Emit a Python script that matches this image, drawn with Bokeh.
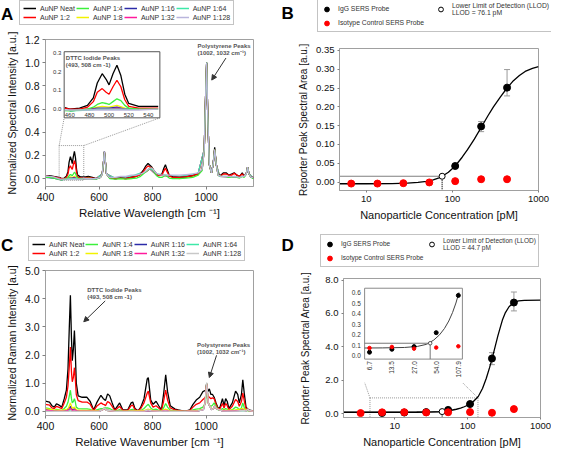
import math
from bokeh.plotting import figure
from bokeh.layouts import column, row
from bokeh.models import (Range1d, FixedTicker, PrintfTickFormatter, Legend, LegendItem, Label,
                          Arrow, NormalHead, TeeHead, Whisker, ColumnDataSource, LogScale)
from bokeh.core.properties import value
from bokeh.embed import file_html
from bokeh.resources import INLINE

FONT = "Liberation Sans"

# ---------------- Panel A : AuNP spectra ----------------
xA = [400, 415, 430, 455, 460, 470, 478, 484, 488, 493, 497, 500, 504, 508, 512, 516, 520, 530, 550, 560,
      575, 590, 605, 612, 617, 620, 623, 628, 640, 660, 680, 700, 720, 740, 755, 765, 775, 783, 790, 797,
      805, 815, 825, 835, 842, 848, 854, 862, 875, 900, 925, 950, 970, 985, 993, 998, 1002, 1006, 1012, 1020,
      1026, 1032, 1038, 1045, 1055, 1065, 1075, 1085, 1095, 1105, 1115, 1125, 1135, 1142, 1150, 1155, 1160, 1168, 1177]
a_neat = [0.02, 0.025, 0.02, 0.008, 0.0, 0.005, 0.02, 0.06, 0.14, 0.19, 0.16, 0.13, 0.19, 0.235, 0.18,
          0.08, 0.03, 0.015, 0.015, 0.02, 0.01, 0.0, 0.01, 0.04, 0.15, 0.235, 0.16, 0.04, 0.01, 0.0,
          0.005, 0.0, 0.01, 0.02, 0.04, 0.07, 0.11, 0.13, 0.115, 0.1, 0.07, 0.04, 0.03, 0.04, 0.09,
          0.12, 0.08, 0.03, 0.015, 0.01, 0.015, 0.025, 0.04, 0.08, 0.25, 0.7, 1.0, 0.55, 0.12, 0.05,
          0.12, 0.27, 0.12, 0.03, 0.03, 0.05, 0.05, 0.03, 0.04, 0.05, 0.03, 0.02, 0.05, 0.02, 0.04,
          0.1, 0.04, 0.01, 0.01]
a_1_2 = [0.02, 0.02, 0.015, 0.005, 0.0, 0.0, 0.01, 0.04, 0.09, 0.11, 0.09, 0.08, 0.12, 0.155, 0.12,
         0.05, 0.015, 0.005, 0.005, 0.01, 0.005, 0.0, 0.01, 0.04, 0.15, 0.23, 0.16, 0.04, 0.005, 0.0,
         0.005, 0.0, 0.01, 0.02, 0.035, 0.06, 0.09, 0.11, 0.1, 0.095, 0.065, 0.035, 0.025, 0.03, 0.065,
         0.09, 0.06, 0.025, 0.01, 0.01, 0.015, 0.025, 0.04, 0.08, 0.25, 0.7, 0.99, 0.55, 0.12, 0.05,
         0.12, 0.25, 0.12, 0.03, 0.025, 0.04, 0.04, 0.03, 0.03, 0.045, 0.03, 0.02, 0.04, 0.02, 0.04,
         0.1, 0.04, 0.01, 0.01]
a_1_4 = [0.01, 0.01, 0.005, -0.008, -0.01, -0.005, 0.0, 0.01, 0.025, 0.035, 0.03, 0.025, 0.04, 0.055, 0.045,
         0.02, 0.005, 0.0, 0.0, 0.005, 0.0, -0.005, 0.01, 0.04, 0.15, 0.23, 0.16, 0.04, 0.0, -0.005,
         0.0, -0.005, 0.0, 0.005, 0.02, 0.04, 0.06, 0.075, 0.085, 0.09, 0.06, 0.025, 0.01, 0.01, 0.02,
         0.03, 0.02, 0.005, 0.0, 0.0, 0.005, 0.01, 0.03, 0.07, 0.25, 0.7, 1.0, 0.55, 0.12, 0.05,
         0.12, 0.25, 0.12, 0.03, 0.02, 0.02, 0.02, 0.01, 0.01, 0.02, 0.01, 0.005, 0.02, 0.01, 0.04,
         0.1, 0.04, 0.01, 0.0]
a_1_128 = [0.02, 0.02, 0.015, -0.005, -0.005, -0.005, -0.005, -0.005, -0.005, -0.005, -0.005, -0.005, -0.005, -0.005, -0.005,
           -0.005, -0.005, -0.005, 0.0, 0.0, 0.0, 0.0, 0.01, 0.04, 0.15, 0.235, 0.16, 0.04, 0.01, 0.01,
           0.02, 0.02, 0.03, 0.03, 0.04, 0.05, 0.065, 0.08, 0.09, 0.09, 0.07, 0.045, 0.035, 0.03, 0.03,
           0.035, 0.03, 0.03, 0.03, 0.03, 0.035, 0.04, 0.05, 0.08, 0.25, 0.7, 1.0, 0.55, 0.12, 0.05,
           0.12, 0.25, 0.12, 0.03, 0.02, 0.02, 0.02, 0.02, 0.015, 0.02, 0.015, 0.01, 0.02, 0.02, 0.04,
           0.1, 0.04, 0.01, 0.01]
xA_low = [400, 430, 460, 480, 488, 493, 500, 508, 516, 530, 590, 612, 617, 620, 623, 628, 660, 720, 775, 790,
          815, 848, 900, 970, 993, 998, 1002, 1006, 1012, 1020, 1026, 1032, 1038, 1050, 1100, 1140, 1150, 1155, 1160, 1177]
a_1_8 = [0.01, 0.01, -0.005, 0.0, 0.01, 0.015, 0.01, 0.02, 0.005, 0.0, 0.0, 0.04, 0.15, 0.23, 0.16,
         0.04, 0.0, 0.0, 0.06, 0.085, 0.03, 0.025, 0.0, 0.03, 0.25, 0.7, 1.0, 0.55, 0.12, 0.05,
         0.12, 0.25, 0.12, 0.02, 0.015, 0.02, 0.04, 0.1, 0.04, 0.0]
a_1_16 = [0.01, 0.005, -0.01, 0.0, 0.005, 0.005, 0.005, 0.01, 0.0, 0.0, 0.0, 0.04, 0.15, 0.23, 0.16,
          0.04, 0.0, 0.01, 0.06, 0.085, 0.03, 0.025, 0.01, 0.04, 0.25, 0.7, 1.0, 0.55, 0.12, 0.05,
          0.12, 0.25, 0.12, 0.02, 0.015, 0.02, 0.04, 0.1, 0.04, 0.0]
a_1_32 = [0.01, 0.01, -0.005, 0.0, 0.0, 0.0, 0.0, 0.005, 0.0, 0.0, 0.0, 0.04, 0.15, 0.23, 0.16,
          0.04, 0.0, 0.01, 0.06, 0.085, 0.035, 0.025, 0.01, 0.04, 0.25, 0.7, 1.0, 0.55, 0.12, 0.05,
          0.12, 0.25, 0.12, 0.02, 0.015, 0.02, 0.04, 0.1, 0.04, 0.0]
a_1_64 = [0.01, 0.01, -0.01, -0.005, 0.0, 0.0, 0.0, 0.0, 0.0, 0.0, 0.0, 0.04, 0.15, 0.23, 0.16,
          0.04, 0.005, 0.02, 0.065, 0.09, 0.04, 0.03, 0.02, 0.045, 0.25, 0.7, 1.0, 0.55, 0.12, 0.05,
          0.12, 0.25, 0.12, 0.02, 0.015, 0.02, 0.04, 0.1, 0.04, 0.005]
labelsA = ["AuNP Neat", "AuNP 1:2", "AuNP 1:4", "AuNP 1:8", "AuNP 1:16", "AuNP 1:32", "AuNP 1:64", "AuNP 1:128"]
ticksA_x = [400, 600, 800, 1000]
ticksA_y = [0.0, 0.2, 0.4, 0.6, 0.8, 1.0, 1.2]
inset_ticksA_x = [460, 480, 500, 520, 540]
inset_ticksA_y = [0.0, 0.1, 0.2, 0.3]

# ---------------- Panel C : AuNR spectra ----------------
xC = [400, 415, 424, 433, 441, 451, 461, 470, 478, 484, 489, 493, 497, 500, 504, 508, 511, 515, 522, 537,
      555, 567, 580, 591, 607, 616, 620, 624, 632, 640, 649, 659, 677, 689, 707, 720, 726, 734, 746, 756,
      768, 780, 784, 793, 802, 813, 823, 833, 841, 849, 856, 866, 884, 896, 921, 939, 951, 963, 976, 988,
      998, 1002, 1006, 1012, 1018, 1024, 1030, 1037, 1045, 1052, 1061, 1067, 1073, 1079, 1085, 1098, 1110, 1118, 1124, 1132,
      1137, 1143, 1149, 1159, 1175]
c_neat = [0.36, 0.33, 0.2, 0.15, 0.27, 0.22, 0.15, 0.45, 0.75, 1.5, 3.0, 4.12, 2.6, 1.8, 2.2,
          2.87, 2.2, 1.0, 0.55, 0.5, 0.5, 0.35, 0.05, 0.3, 0.57, 0.45, 0.42, 0.38, 0.62, 0.55,
          0.3, 0.05, 0.3, 0.05, 0.05, 0.3, 0.33, 0.1, 0.02, 0.15, 0.45, 1.15, 1.2, 0.4, 0.25,
          0.36, 0.2, 0.05, 0.6, 1.3, 0.7, 0.2, 0.08, 0.05, 0.0, 0.05, 0.25, 0.4, 0.5, 0.7,
          0.75, 0.97, 0.7, 0.8, 0.6, 0.6, 0.5, 0.3, 0.1, 0.15, 0.45, 0.2, 0.45, 0.35, 0.1,
          0.3, 0.72, 0.6, 0.3, 0.6, 1.12, 0.6, 0.15, 0.05, 0.02]
c_1_2 = [0.25, 0.22, 0.12, 0.1, 0.18, 0.14, 0.1, 0.3, 0.5, 0.9, 1.6, 2.28, 1.4, 1.05, 1.2,
         1.55, 1.2, 0.6, 0.38, 0.33, 0.33, 0.25, 0.03, 0.18, 0.3, 0.25, 0.24, 0.2, 0.35, 0.3,
         0.18, 0.03, 0.18, 0.03, 0.03, 0.2, 0.22, 0.06, 0.02, 0.1, 0.3, 0.65, 0.72, 0.3, 0.15,
         0.2, 0.12, 0.03, 0.35, 0.75, 0.4, 0.12, 0.05, 0.03, 0.0, 0.03, 0.15, 0.25, 0.3, 0.42,
         0.5, 0.95, 0.55, 0.5, 0.45, 0.48, 0.45, 0.25, 0.08, 0.1, 0.28, 0.12, 0.28, 0.2, 0.06,
         0.18, 0.42, 0.35, 0.18, 0.35, 0.65, 0.35, 0.1, 0.03, 0.01]
c_1_4 = [0.12, 0.1, 0.05, 0.03, 0.07, 0.05, 0.03, 0.1, 0.18, 0.32, 0.55, 0.75, 0.45, 0.3, 0.35,
         0.45, 0.35, 0.15, 0.1, 0.09, 0.09, 0.07, 0.0, 0.05, 0.1, 0.1, 0.13, 0.12, 0.12, 0.1,
         0.05, 0.0, 0.06, 0.0, 0.0, 0.06, 0.07, 0.02, 0.0, 0.03, 0.1, 0.22, 0.25, 0.12, 0.06,
         0.08, 0.04, 0.01, 0.12, 0.28, 0.15, 0.04, 0.02, 0.0, 0.0, 0.0, 0.05, 0.08, 0.1, 0.15,
         0.3, 0.98, 0.4, 0.2, 0.18, 0.22, 0.3, 0.18, 0.05, 0.04, 0.1, 0.05, 0.1, 0.07, 0.02,
         0.06, 0.15, 0.12, 0.06, 0.12, 0.3, 0.12, 0.03, 0.02, 0.0]
xC_low = [400, 430, 460, 478, 486, 493, 500, 508, 516, 530, 570, 600, 612, 620, 628, 660, 720, 770, 783, 795,
          830, 848, 865, 920, 970, 990, 996, 1002, 1008, 1020, 1028, 1032, 1038, 1060, 1110, 1137, 1150, 1155, 1160, 1177]
c_1_8 = [0.1, 0.05, 0.03, 0.06, 0.12, 0.3, 0.1, 0.15, 0.05, 0.04, 0.03, 0.02, 0.05, 0.1, 0.04,
         0.0, 0.02, 0.03, 0.08, 0.04, 0.0, 0.08, 0.02, 0.0, 0.03, 0.08, 0.3, 0.99, 0.3, 0.08,
         0.1, 0.2, 0.1, 0.03, 0.05, 0.1, 0.04, 0.08, 0.03, 0.0]
c_1_16 = [0.06, 0.03, 0.02, 0.04, 0.08, 0.18, 0.06, 0.09, 0.03, 0.02, 0.02, 0.01, 0.05, 0.1, 0.04,
          0.0, 0.01, 0.02, 0.05, 0.03, 0.0, 0.05, 0.01, 0.0, 0.02, 0.07, 0.3, 0.99, 0.3, 0.07,
          0.1, 0.2, 0.1, 0.02, 0.03, 0.06, 0.03, 0.08, 0.03, 0.0]
c_1_32 = [0.04, 0.02, 0.01, 0.02, 0.05, 0.1, 0.03, 0.05, 0.02, 0.01, 0.01, 0.0, 0.05, 0.1, 0.04,
          0.0, 0.0, 0.01, 0.03, 0.02, 0.0, 0.03, 0.0, 0.0, 0.02, 0.06, 0.3, 0.99, 0.3, 0.06,
          0.1, 0.2, 0.1, 0.02, 0.02, 0.04, 0.02, 0.08, 0.03, 0.0]
c_1_64 = [0.02, 0.01, 0.0, 0.01, 0.02, 0.05, 0.01, 0.03, 0.01, 0.0, 0.0, 0.0, 0.05, 0.1, 0.04,
          0.0, 0.0, 0.01, 0.02, 0.01, 0.0, 0.02, 0.0, 0.0, 0.02, 0.06, 0.3, 1.0, 0.3, 0.06,
          0.1, 0.2, 0.1, 0.02, 0.01, 0.03, 0.02, 0.08, 0.03, 0.0]
c_1_128 = [0.01, 0.0, 0.0, 0.0, 0.0, 0.02, 0.0, 0.01, 0.0, 0.0, 0.0, 0.0, 0.05, 0.12, 0.04,
           0.0, 0.0, 0.01, 0.05, 0.02, 0.0, 0.02, 0.0, 0.0, 0.02, 0.06, 0.3, 1.02, 0.3, 0.06,
           0.1, 0.2, 0.1, 0.02, 0.01, 0.03, 0.02, 0.08, 0.03, 0.0]
labelsC = ["AuNR Neat", "AuNR 1:2", "AuNR 1:4", "AuNR 1:8", "AuNR 1:16", "AuNR 1:32", "AuNR 1:64", "AuNR 1:128"]
ticksC_y = [0.0, 1.0, 2.0, 3.0, 4.0, 5.0]

# ---------------- Panel B : AuNP SERS assay ----------------
concB = [6.7, 13.5, 27.0, 54.0, 107.9, 215.8, 431.6]
iggB_x = [107.9, 215.8, 431.6]
iggB_y = [0.0427, 0.148, 0.251]
iggB_lo = [0.0427, 0.134, 0.229]
iggB_hi = [0.0427, 0.161, 0.299]
isoB_y = [-0.004, -0.004, -0.003, -0.001, 0.0025, 0.0075, 0.0075]
fitB_x = [4.9, 10, 20, 30, 40, 50, 60, 70, 76.1, 90, 107.9, 130, 150, 180, 215.8, 260, 300, 360, 431.6, 500, 600, 700, 850, 1000]
fitB_y = [-0.0045, -0.0044, -0.004, -0.003, -0.001, 0.002, 0.006, 0.011, 0.0155, 0.026, 0.0427, 0.066, 0.086, 0.114,
          0.145, 0.177, 0.2, 0.226, 0.25, 0.267, 0.283, 0.294, 0.302, 0.307]
llodB = (76.1, 0.0155)
ticksB_y = [0.0, 0.05, 0.10, 0.15, 0.20, 0.25, 0.30, 0.35]

# ---------------- Panel D : AuNR SERS assay ----------------
iggD_x = [6.7, 13.5, 27.0, 54.0, 107.9, 215.8, 431.6]
iggD_y = [0.035, 0.063, 0.088, 0.22, 0.572, 3.3, 6.65]
iggD_lo = [0.035, 0.045, 0.08, 0.18, 0.572, 2.93, 6.15]
iggD_hi = [0.035, 0.083, 0.096, 0.31, 0.572, 3.65, 7.28]
isoD_x = [3.4, 6.7, 13.5, 27.0, 54.0, 107.9, 215.8, 431.6]
isoD_y = [0.03, 0.075, 0.085, 0.069, 0.079, 0.091, 0.05, 0.27]
fitD_x = [1.98, 5, 10, 20, 30, 40, 50, 60, 70, 80, 90, 100, 110, 120, 140, 160, 180, 200, 220, 240,
          260, 280, 300, 330, 370, 430, 500, 600, 1000]
fitD_y = [0.075, 0.075, 0.076, 0.08, 0.09, 0.11, 0.15, 0.2, 0.26, 0.33, 0.41, 0.5, 0.6, 0.72, 1.02, 1.5, 2.1, 2.75, 3.4, 4.05,
          4.65, 5.15, 5.6, 6.05, 6.4, 6.65, 6.75, 6.78, 6.8]
llodD = (44.7, 0.12)
ticksD_y = [0.0, 2.0, 4.0, 6.0, 8.0]
inset_ticksD_x = [6.7, 13.5, 27.0, 54.0, 107.9]
inset_ticksD_y = [0.0, 0.1, 0.2, 0.3, 0.4, 0.5, 0.6]
ticks_log = [10, 100, 1000]

COLORS_A = ["#000000", "#ff0000", "#3cf03c", "#f2f200", "#2b2ba8", "#ff1a9c", "#3ee8a8", "#b9b5dc"]
COLORS_C = ["#000000", "#ff0000", "#3cf03c", "#f2f200", "#2b2ba8", "#ff1a9c", "#3ee8a8", "#c8c8c8"]


def make_fig(xr, yr, w, h, left, right, top, bottom, xtype="linear"):
    p = figure(width=w, height=h, x_range=xr, y_range=yr, x_axis_type=xtype, title=None,
               output_backend="svg", toolbar_location=None, frame_align=False,
               min_border_left=left, min_border_right=right, min_border_top=top, min_border_bottom=bottom)
    p.grid.visible = False
    p.outline_line_color = "#a0a0a0"
    p.background_fill_color = "white"
    p.border_fill_color = "white"
    for ax in p.axis:
        ax.axis_line_color = "#a0a0a0"
        ax.major_tick_line_color = "#808080"
        ax.minor_tick_line_color = None
        ax.major_tick_out = 3
        ax.major_tick_in = 0
        ax.major_label_text_font = FONT
        ax.axis_label_text_font = FONT
        ax.axis_label_text_font_style = "normal"
        ax.major_label_text_color = "#111111"
        ax.axis_label_text_color = "#111111"
    return p


def make_header(w, h):
    hf = figure(width=w, height=h, x_range=Range1d(0, w), y_range=Range1d(h, 0), title=None,
                output_backend="svg", toolbar_location=None, frame_align=False,
                min_border=0, min_border_left=0, min_border_right=0, min_border_top=0, min_border_bottom=0,
                x_axis_location=None, y_axis_location=None)
    hf.grid.visible = False
    hf.outline_line_color = None
    hf.background_fill_color = "white"
    hf.border_fill_color = "white"
    return hf


def lin_map(v, r_main, r_ins):
    return r_main.start + (v - r_ins.start) * (r_main.end - r_main.start) / (r_ins.end - r_ins.start)


def log_map(v, r_main, r_ins):
    lm0, lm1 = math.log10(r_main.start), math.log10(r_main.end)
    li0, li1 = math.log10(r_ins.start), math.log10(r_ins.end)
    return 10 ** (lm0 + (math.log10(v) - li0) * (lm1 - lm0) / (li1 - li0))


def clip(xs, ys, lo, hi):
    pts = [(x, y) for x, y in zip(xs, ys) if lo <= x <= hi]
    return [a for a, _ in pts], [b for _, b in pts]


def letter(hf, txt, x, y):
    hf.add_layout(Label(x=x, y=y, text=txt, text_font=FONT, text_baseline="alphabetic",
                        text_font_style="bold", text_font_size="17px", text_color="black"))


def note(p, txt, x, y, size="6px", **kw):
    p.add_layout(Label(x=x, y=y, text=txt, text_font=FONT, text_font_style="bold", text_font_size=size,
                       text_color="#555555", text_baseline="top", text_line_height=1.15, **kw))


def arrow(p, x0, y0, x1, y1, **kw):
    p.add_layout(Arrow(x_start=x0, y_start=y0, x_end=x1, y_end=y1, line_color="#333333", line_width=1,
                       end=NormalHead(size=5, fill_color="#333333", line_color="#333333"), **kw))


OFF = [-1000]  # legend swatch renderers sit outside the header's visible area


def spectra_legend(hf, labels, colors, loc):
    items = []
    for lab, col in zip(labels, colors):
        r = hf.line(x=OFF, y=OFF, line_color=col, line_width=1.5)
        items.append(LegendItem(label=lab, renderers=[r]))
    lg = Legend(items=items, location=loc, orientation="vertical", nrows=2,
                label_text_font=FONT, label_text_font_size="7px", label_text_color="#333333",
                glyph_width=13, glyph_height=8, label_height=8, label_standoff=4, label_width=30,
                spacing=1, padding=3, margin=0, border_line_color="#888888", background_fill_color="white")
    hf.add_layout(lg)


def assay_legend(hf, llod_text, loc, size, lw):
    r1 = hf.scatter(x=OFF, y=OFF, fill_color="black", line_color="black")
    r2 = hf.scatter(x=OFF, y=OFF, fill_color="#ff0000", line_color="#ff0000")
    r3 = hf.scatter(x=OFF, y=OFF, fill_color="white", line_color="black")
    items = [LegendItem(label="IgG SERS Probe", renderers=[r1]),
             LegendItem(label="Isotype Control SERS Probe", renderers=[r2]),
             LegendItem(label=llod_text, renderers=[r3])]
    lg = Legend(items=items, location=loc, orientation="vertical", nrows=2,
                label_text_font=FONT, label_text_font_size=size, label_text_color="#333333",
                label_text_line_height=1.0,
                glyph_width=13, glyph_height=12, label_height=8, label_standoff=5, label_width=lw,
                spacing=1, padding=2, margin=0, border_line_color="#888888", background_fill_color="white")
    hf.add_layout(lg)


# ================= Panel A =================
hA = make_header(275, 28)
letter(hA, "A", 0.5, 13.5)
spectra_legend(hA, labelsA, COLORS_A, (19, 3))

xrA, yrA = Range1d(400, 1177), Range1d(-0.068, 1.2)
pA = make_fig(xrA, yrA, 275, 197, 45, 22, 11, 39)
pA.xaxis.ticker = FixedTicker(ticks=ticksA_x)
pA.yaxis.ticker = FixedTicker(ticks=ticksA_y)
pA.yaxis.formatter = PrintfTickFormatter(format="%.1f")
pA.xaxis.axis_label = "Relative Wavelength [cm \u207b\u00b9]"
pA.yaxis.axis_label = "Normalized Spectral Intensity [a.u.]"
for ax in pA.axis:
    ax.major_label_text_font_size = "10.5px"
pA.xaxis.axis_label_text_font_size = "11.5px"
pA.yaxis.axis_label_text_font_size = "10.5px"
pA.xaxis.major_label_standoff = 3
pA.xaxis.axis_label_standoff = 3
pA.yaxis.major_label_standoff = 3
pA.yaxis.axis_label_standoff = 4

seriesA = [(xA, a_neat), (xA, a_1_2), (xA, a_1_4), (xA_low, a_1_8), (xA_low, a_1_16),
           (xA_low, a_1_32), (xA_low, a_1_64), (xA, a_1_128)]
draw_order = [3, 4, 5, 6, 0, 1, 2, 7]
for i in draw_order:
    xs, ys = seriesA[i]
    pA.line(xs, ys, line_color=COLORS_A[i], line_width=1.3)

# inset of panel A (drawn through extra ranges)
xiA, yiA = Range1d(435.3, 647.0), Range1d(-0.4158, 0.3737)
pA.extra_x_ranges = {"ins": xiA}
pA.extra_y_ranges = {"ins": yiA}
boxA = (454.3, 551.7, -0.047, 0.308)
zoomA = (451, 543, -0.015, 0.285)
pA.quad(left=[zoomA[0]], right=[zoomA[1]], bottom=[zoomA[2]], top=[zoomA[3]], fill_color=None,
        line_color="#999999", line_dash="1 1", line_width=1)
pA.segment(x0=[zoomA[0], zoomA[1]], y0=[zoomA[3], zoomA[3]],
           x1=[lin_map(boxA[0], xrA, xiA), lin_map(boxA[1], xrA, xiA)],
           y1=[lin_map(boxA[2], yrA, yiA), lin_map(boxA[2], yrA, yiA)],
           line_color="#999999", line_dash="1 1", line_width=1)
pA.quad(left=[boxA[0]], right=[boxA[1]], bottom=[boxA[2]], top=[boxA[3]], fill_color="white",
        line_color="#555555", line_width=1, x_range_name="ins", y_range_name="ins")
for i in draw_order:
    xs, ys = clip(*seriesA[i], boxA[0], boxA[1])
    pA.line(xs, ys, line_color=COLORS_A[i], line_width=1.3, x_range_name="ins", y_range_name="ins")
pA.text(x=inset_ticksA_x, y=[-0.022] * len(inset_ticksA_x), text=[str(t) for t in inset_ticksA_x],
        text_font=value(FONT), text_font_size="6px", text_align="center", text_baseline="top",
        text_color="#333333", x_range_name="ins", y_range_name="ins")
pA.text(x=[451.5] * len(inset_ticksA_y), y=inset_ticksA_y, text=["%.1f" % t for t in inset_ticksA_y],
        text_font=value(FONT), text_font_size="6px", text_align="right", text_baseline="middle",
        text_color="#333333", x_range_name="ins", y_range_name="ins")
pA.text(x=[456], y=[0.291], text=["DTTC Iodide Peaks\n(493, 508 cm -1)"], text_font=value(FONT),
        text_font_size="6px", text_font_style="bold", text_color="#555555", text_baseline="top",
        text_line_height=1.2, x_range_name="ins", y_range_name="ins")
note(pA, "Polystyrene Peaks\n(1002, 1032 cm\u207b\u00b9)", 968, 1.17)
arrow(pA, 1074, 1.04, 1021, 0.85)

# ================= Panel C =================
hC = make_header(275, 38)
letter(hC, "C", 0.5, 19.5)
spectra_legend(hC, labelsC, COLORS_C, (28, 2))

xrC, yrC = Range1d(400, 1177), Range1d(-0.147, 5.0)
pC = make_fig(xrC, yrC, 275, 187, 45, 22, 7, 32)
pC.xaxis.ticker = FixedTicker(ticks=ticksA_x)
pC.yaxis.ticker = FixedTicker(ticks=ticksC_y)
pC.yaxis.formatter = PrintfTickFormatter(format="%.1f")
pC.xaxis.axis_label = "Relative Wavenumber [cm \u207b\u00b9]"
pC.yaxis.axis_label = "Normalized Raman Intensity [a.u]"
for ax in pC.axis:
    ax.major_label_text_font_size = "10.5px"
pC.xaxis.axis_label_text_font_size = "11.5px"
pC.yaxis.axis_label_text_font_size = "10.5px"
pC.xaxis.major_label_standoff = 3
pC.xaxis.axis_label_standoff = 3
pC.yaxis.major_label_standoff = 3
pC.yaxis.axis_label_standoff = 4
seriesC = [(xC, c_neat), (xC, c_1_2), (xC, c_1_4), (xC_low, c_1_8), (xC_low, c_1_16),
           (xC_low, c_1_32), (xC_low, c_1_64), (xC_low, c_1_128)]
for i in [4, 6, 0, 1, 2, 3, 5, 7]:
    xs, ys = seriesC[i]
    pC.line(xs, ys, line_color=COLORS_C[i], line_width=1.3)
note(pC, "DTTC Iodide Peaks\n(493, 508 cm -1)", 556, 4.40)
arrow(pC, 623, 3.92, 543, 3.18)
note(pC, "Polystyrene Peaks\n(1002, 1032 cm\u207b\u00b9)", 966, 2.46)
arrow(pC, 1039, 1.99, 1012, 1.2)

# ================= Panel B =================
hB = make_header(276, 33)
letter(hB, "B", 6, 12.5)
assay_legend(hB, "Lower Limit of Detection (LLOD)\nLLOD = 76.1 pM", (42, 1.5), "6.8px", 95)

xrB, yrB = Range1d(4.9, 1000), Range1d(-0.0224, 0.355)
pB = make_fig(xrB, yrB, 276, 192, 64, 13, 15, 35, xtype="log")
pB.xaxis.ticker = FixedTicker(ticks=ticks_log)
pB.xaxis.formatter = PrintfTickFormatter(format="%d")
pB.yaxis.ticker = FixedTicker(ticks=ticksB_y)
pB.yaxis.formatter = PrintfTickFormatter(format="%.2f")
pB.xaxis.axis_label = "Nanoparticle Concentration [pM]"
pB.yaxis.axis_label = "Reporter Peak Spectral Area [a.u.]"
for ax in pB.axis:
    ax.major_label_text_font_size = "9.5px"
    ax.major_tick_out = 2
    ax.major_label_standoff = 3
pB.xaxis.axis_label_text_font_size = "11px"
pB.yaxis.axis_label_text_font_size = "10px"
pB.xaxis.axis_label_standoff = 4
pB.yaxis.axis_label_standoff = 4
pB.line(fitB_x, fitB_y, line_color="black", line_width=1.3)
pB.line([xrB.start, llodB[0]], [llodB[1], llodB[1]], line_color="black", line_dash="1 1", line_width=1.2)
pB.line([llodB[0], llodB[0]], [llodB[1], yrB.start], line_color="black", line_dash="1 1", line_width=1.2)
pB.add_layout(Whisker(source=ColumnDataSource(dict(x=iggB_x, lo=iggB_lo, hi=iggB_hi)), base="x",
                      lower="lo", upper="hi", line_color="#9a9a9a", line_width=1,
                      upper_head=TeeHead(size=6, line_color="#9a9a9a"),
                      lower_head=TeeHead(size=6, line_color="#9a9a9a")))
pB.scatter(iggB_x, iggB_y, size=7, fill_color="black", line_color="black")
pB.scatter(concB, isoB_y, size=7, fill_color="#ff0000", line_color="#ff0000")
pB.scatter([llodB[0]], [llodB[1]], size=6, fill_color="white", line_color="black", line_width=1)

# ================= Panel D =================
hD = make_header(276, 43)
letter(hD, "D", 6, 20)
assay_legend(hD, "Lower Limit of Detection (LLOD)\nLLOD = 44.7 pM", (45, 1.5), "6.5px", 83)

xrD, yrD = Range1d(1.98, 1000), Range1d(-0.234, 8.09)
pD = make_fig(xrD, yrD, 276, 182, 68, 11, 10, 33, xtype="log")
pD.xaxis.ticker = FixedTicker(ticks=ticks_log)
pD.xaxis.formatter = PrintfTickFormatter(format="%d")
pD.yaxis.ticker = FixedTicker(ticks=ticksD_y)
pD.yaxis.formatter = PrintfTickFormatter(format="%.1f")
pD.xaxis.axis_label = "Nanoparticle Concentration [pM]"
pD.yaxis.axis_label = "Reporter Peak Spectral Area [a.u.]"
for ax in pD.axis:
    ax.major_label_text_font_size = "9.5px"
    ax.major_tick_out = 2
    ax.major_label_standoff = 3
pD.xaxis.axis_label_text_font_size = "11px"
pD.yaxis.axis_label_text_font_size = "10px"
pD.xaxis.axis_label_standoff = 4
pD.yaxis.axis_label_standoff = 11

xiD, yiD = Range1d(2.97, 1410), Range1d(-0.582, 0.732)
pD.extra_x_ranges = {"ins": xiD}
pD.extra_y_ranges = {"ins": yiD}
pD.extra_x_scales = {"ins": LogScale()}
boxD = (5.75, 122.5, -0.03, 0.64)
zoomD = (4.57, 138.6, 0.94)
lab_bottomD = -0.252

pD.quad(left=[zoomD[0]], right=[zoomD[1]], bottom=[yrD.start], top=[zoomD[2]], fill_color=None,
        line_color="#999999", line_dash="1 1", line_width=1)
pD.segment(x0=[zoomD[0], zoomD[1]], y0=[zoomD[2], zoomD[2]],
           x1=[log_map(boxD[0], xrD, xiD), log_map(boxD[1], xrD, xiD)],
           y1=[lin_map(lab_bottomD, yrD, yiD)] * 2,
           line_color="#999999", line_dash="1 1", line_width=1)
pD.line(fitD_x, fitD_y, line_color="black", line_width=1.3)
pD.line([xrD.start, llodD[0]], [llodD[1], llodD[1]], line_color="black", line_dash="1 1", line_width=1.2)
pD.line([llodD[0], llodD[0]], [llodD[1], yrD.start], line_color="black", line_dash="1 1", line_width=1.2)
pD.add_layout(Whisker(source=ColumnDataSource(dict(x=iggD_x[5:], lo=iggD_lo[5:], hi=iggD_hi[5:])), base="x",
                      lower="lo", upper="hi", line_color="#9a9a9a", line_width=1,
                      upper_head=TeeHead(size=6, line_color="#9a9a9a"),
                      lower_head=TeeHead(size=6, line_color="#9a9a9a")))
pD.scatter(iggD_x, iggD_y, size=7, fill_color="black", line_color="black")
pD.scatter([llodD[0]], [llodD[1]], size=6, fill_color="white", line_color="black", line_width=1)
pD.scatter(isoD_x, isoD_y, size=7, fill_color="#ff0000", line_color="#ff0000")

# inset of panel D
pD.quad(left=[boxD[0]], right=[boxD[1]], bottom=[boxD[2]], top=[boxD[3]], fill_color="white",
        line_color="#8a8a8a", line_width=1, x_range_name="ins", y_range_name="ins")
fx, fy = clip(fitD_x, fitD_y, boxD[0], 112)
fx = [boxD[0]] + fx
fy = [fitD_y[1]] + fy
pD.line(fx, fy, line_color="#444444", line_width=1, x_range_name="ins", y_range_name="ins")
pD.line([boxD[0], llodD[0]], [llodD[1], llodD[1]], line_color="#777777", line_width=1,
        x_range_name="ins", y_range_name="ins")
pD.line([llodD[0], llodD[0]], [llodD[1], boxD[2]], line_color="#777777", line_width=1,
        x_range_name="ins", y_range_name="ins")
pD.add_layout(Whisker(source=ColumnDataSource(dict(x=iggD_x[:5], lo=iggD_lo[:5], hi=iggD_hi[:5])), base="x",
                      lower="lo", upper="hi", line_color="#9a9a9a", line_width=1,
                      upper_head=TeeHead(size=3, line_color="#9a9a9a"),
                      lower_head=TeeHead(size=3, line_color="#9a9a9a"),
                      x_range_name="ins", y_range_name="ins"))
pD.scatter(iggD_x[:5], iggD_y[:5], size=4, fill_color="black", line_color="black",
           x_range_name="ins", y_range_name="ins")
pD.scatter(isoD_x[1:6], isoD_y[1:6], size=3.5, fill_color="#ff0000", line_color="#ff0000",
           x_range_name="ins", y_range_name="ins")
pD.scatter([llodD[0]], [llodD[1]], size=3.5, fill_color="white", line_color="#555555",
           x_range_name="ins", y_range_name="ins")
pD.text(x=inset_ticksD_x, y=[-0.05] * len(inset_ticksD_x), text=["%.1f" % t for t in inset_ticksD_x],
        angle=math.pi / 2, text_font=value(FONT), text_font_size="6.5px", text_align="right",
        text_baseline="middle", text_color="#333333", x_range_name="ins", y_range_name="ins")
pD.text(x=[5.1] * len(inset_ticksD_y), y=inset_ticksD_y, text=["%.1f" % t for t in inset_ticksD_y],
        text_font=value(FONT), text_font_size="6.5px", text_align="right", text_baseline="middle",
        text_color="#333333", x_range_name="ins", y_range_name="ins")

layout = column(
    row(column(hA, pA, spacing=0), column(hB, pB, spacing=0), spacing=0),
    row(column(hC, pC, spacing=0), column(hD, pD, spacing=0), spacing=0),
    spacing=0)
open("out.html", "w").write(file_html(layout, INLINE))
